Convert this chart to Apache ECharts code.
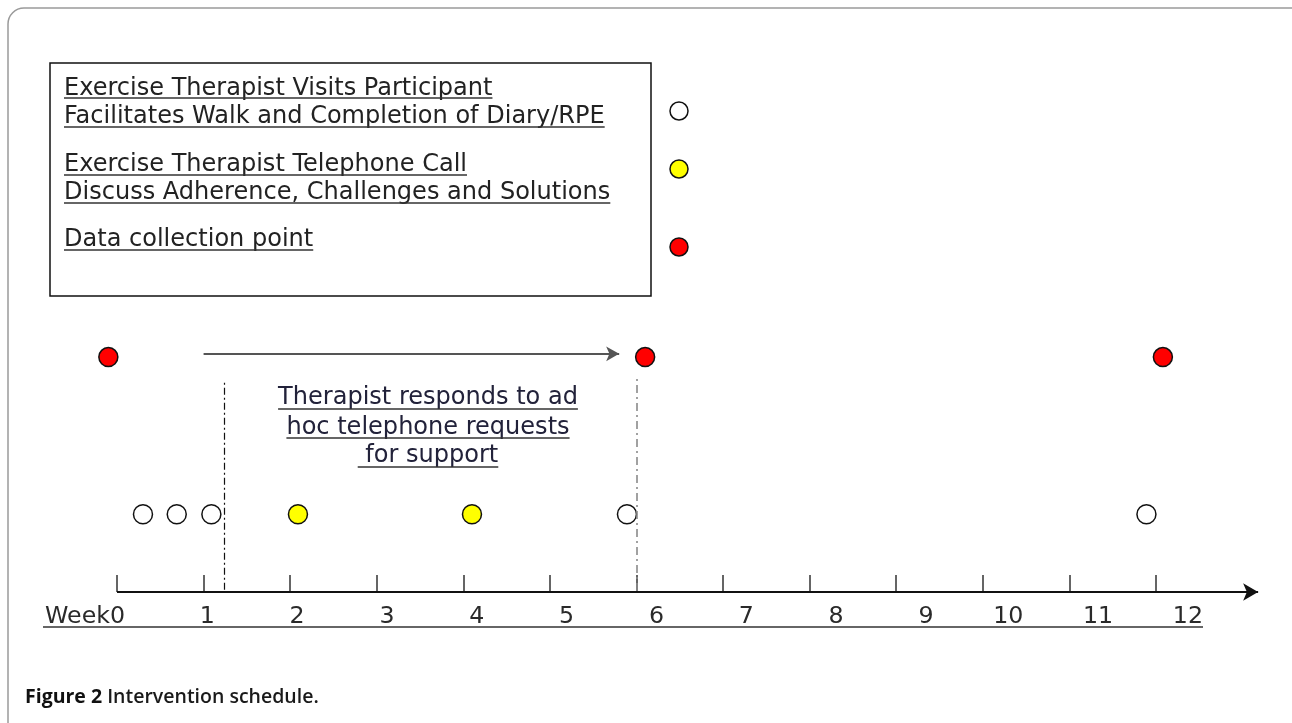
<!DOCTYPE html>
<html><head><meta charset="utf-8">
<script src="https://cdn.jsdelivr.net/npm/echarts@6/dist/echarts.min.js"></script>
<style>html,body{margin:0;padding:0;background:#fff}#c{width:1292px;height:723px}</style>
</head><body><div id="c"></div>
<script>
// ---- data ----
const weekTicks = [0,1,2,3,4,5,6,7,8,9,10,11,12];
const tickLabels = ['Week0','1','2','3','4','5','6','7','8','9','10','11','12'];
const visitWeeks = [0.30, 0.69, 1.09, 5.89, 11.89];      // open circles
const callWeeks = [2.09, 4.10];                          // yellow circles
const collectionWeeks = [-0.10, 6.10, 12.08];            // red circles
const topRow = 43.5;
const bottomRow = 14.4;
const arrowStart = [1.0, 44.1];
const arrowEnd = [5.80, 44.1];
const adhocStartWeek = 1.24;
const adhocEndWeek = 6.0;
const timelineEnd = 13.18;
const legendTexts = [
  'Exercise Therapist Visits Participant',
  'Facilitates Walk and Completion of Diary/RPE',
  'Exercise Therapist Telephone Call',
  'Discuss Adherence, Challenges and Solutions',
  'Data collection point'
];
const noteTexts = ['Therapist responds to ad', 'hoc telephone requests', ' for support'];
const captionBold = 'Figure 2';
const captionRest = ' Intervention schedule.';

// ---- helpers ----
const FONT = '"DejaVu Sans", Verdana, sans-serif';
const CAP = '"Open Sans", "Noto Sans", sans-serif';
const cv = document.createElement('canvas').getContext('2d');
function measure(t, size, fam, weight) { cv.font = (weight || 'normal') + ' ' + size + 'px ' + fam; return cv.measureText(t).width; }
const legendSize = 20 * 541 / measure(legendTexts[1], 20, FONT);
const labelSize = 20 * 80 / measure('Week0', 20, FONT);

const graphics = [];
graphics.push({type:'rect', shape:{x:8, y:8, width:1310, height:740, r:16}, style:{fill:'none', stroke:'#9a9a9a', lineWidth:1.5}, silent:true});
graphics.push({type:'rect', shape:{x:50, y:63, width:601, height:233}, style:{fill:'#fff', stroke:'#111', lineWidth:1.5}, silent:true});
const legendY = [88.5, 116.5, 164.5, 192.5, 239.5];
const legendUL = [98, 127, 175, 203, 250];
legendTexts.forEach((t, i) => {
  graphics.push({type:'text', style:{text:t, x:64, y:legendY[i], fontSize:legendSize, fontFamily:FONT, fill:'#222', align:'left', verticalAlign:'middle'}, silent:true});
  const w = measure(t, legendSize, FONT);
  graphics.push({type:'line', shape:{x1:64, y1:legendUL[i], x2:64 + w, y2:legendUL[i]}, style:{stroke:'#333', lineWidth:1.5}, silent:true});
});
const markerFills = ['#ffffff', '#ffff00', '#ff0000'];
const markerY = [111, 169, 247];
markerFills.forEach((f, i) => graphics.push({type:'circle', shape:{cx:679, cy:markerY[i], r:9}, style:{fill:f, stroke:'#111', lineWidth:1.5}, silent:true}));
const noteY = [398, 427.5, 456];
const noteUL = [409, 438, 467];
noteTexts.forEach((t, i) => {
  graphics.push({type:'text', style:{text:t, x:428, y:noteY[i], fontSize:legendSize, fontFamily:FONT, fill:'#22223a', align:'center', verticalAlign:'middle'}, silent:true});
  const w = measure(t, legendSize, FONT);
  graphics.push({type:'line', shape:{x1:428 - w/2, y1:noteUL[i], x2:428 + w/2, y2:noteUL[i]}, style:{stroke:'#333', lineWidth:1.5}, silent:true});
});
graphics.push({type:'line', shape:{x1:43, y1:627, x2:1203, y2:627}, style:{stroke:'#333', lineWidth:1.5}, silent:true});
graphics.push({type:'text', style:{text:'{b|' + captionBold + '}{r|' + captionRest + '}', x:25, y:697, fontSize:19.5, fontFamily:CAP, fill:'#111', align:'left', verticalAlign:'middle',
  rich:{b:{fontWeight:'bold', fontSize:19.5, fontFamily:CAP, fill:'#111'}, r:{fontWeight:600, fontSize:19.5, fontFamily:CAP, fill:'#1a1a1a'}}}, silent:true});

const U = 86.58;   // px per week on the timeline
const U2 = 89.83;  // px per week on the label row
const dot = (fill) => ({color: fill, borderColor: '#111', borderWidth: 1.5, opacity: 1});

const option = {
  animation: false,
  backgroundColor: '#fff',
  grid: [
    {left: 117 - U, right: 1292 - (117 + 13.5 * U), top: 52, bottom: 131},
    {left: 125 - U2, right: 1292 - (125 + 12.5 * U2), top: 52, bottom: 131}
  ],
  xAxis: [
    {type:'value', gridIndex:0, min:-1, max:13.5, axisLine:{show:false}, splitLine:{show:false},
     axisTick:{show:true, inside:true, length:17, customValues:weekTicks, lineStyle:{color:'#333', width:1.5}},
     axisLabel:{show:false}},
    {type:'value', gridIndex:1, min:-1, max:12.5, axisLine:{show:false}, splitLine:{show:false}, axisTick:{show:false},
     axisLabel:{show:true, customValues:weekTicks, align:'right', margin:13, fontSize:labelSize, fontFamily:FONT, color:'#2a2a2a',
       formatter: v => tickLabels[weekTicks.indexOf(Math.round(v))]}}
  ],
  yAxis: [
    {type:'value', gridIndex:0, min:0, max:100, show:false},
    {type:'value', gridIndex:1, min:0, max:100, show:false}
  ],
  graphic: graphics,
  series: [
    {name:'Visit', type:'scatter', xAxisIndex:0, yAxisIndex:0, symbolSize:19, itemStyle:dot('#ffffff'), silent:true,
     data: visitWeeks.map(w => [w, bottomRow]),
     markLine:{silent:true, symbol:['none','arrow'], symbolSize:[13,15], label:{show:false},
       lineStyle:{color:'#111', width:2, type:'solid'},
       data:[[{coord:[0,0]},{coord:[timelineEnd,0]}]]}},
    {name:'Call', type:'scatter', xAxisIndex:0, yAxisIndex:0, symbolSize:19, itemStyle:dot('#ffff00'), silent:true,
     data: callWeeks.map(w => [w, bottomRow]),
     markLine:{silent:true, symbol:['none','none'], label:{show:false},
       data:[
         [{coord:[adhocStartWeek,0.4], lineStyle:{color:'#111', width:1.2, type:[7,3,2,3]}},{coord:[adhocStartWeek,39.3]}],
         [{coord:[adhocEndWeek,0.2], lineStyle:{color:'#8a8a8a', width:1.6, type:[8,4,2,4]}},{coord:[adhocEndWeek,39.6]}]
       ]}},
    {name:'Data collection', type:'scatter', xAxisIndex:0, yAxisIndex:0, symbolSize:19, itemStyle:dot('#ff0000'), silent:true,
     data: collectionWeeks.map(w => [w, topRow]),
     markLine:{silent:true, symbol:['none','arrow'], symbolSize:[11,13], label:{show:false},
       lineStyle:{color:'#555', width:2, type:'solid'},
       data:[[{coord:arrowStart},{coord:arrowEnd, lineStyle:{color:'#555'}}]]}}
  ]
};
const chart = echarts.init(document.getElementById('c'));
chart.setOption(option);
</script>
</body></html>
